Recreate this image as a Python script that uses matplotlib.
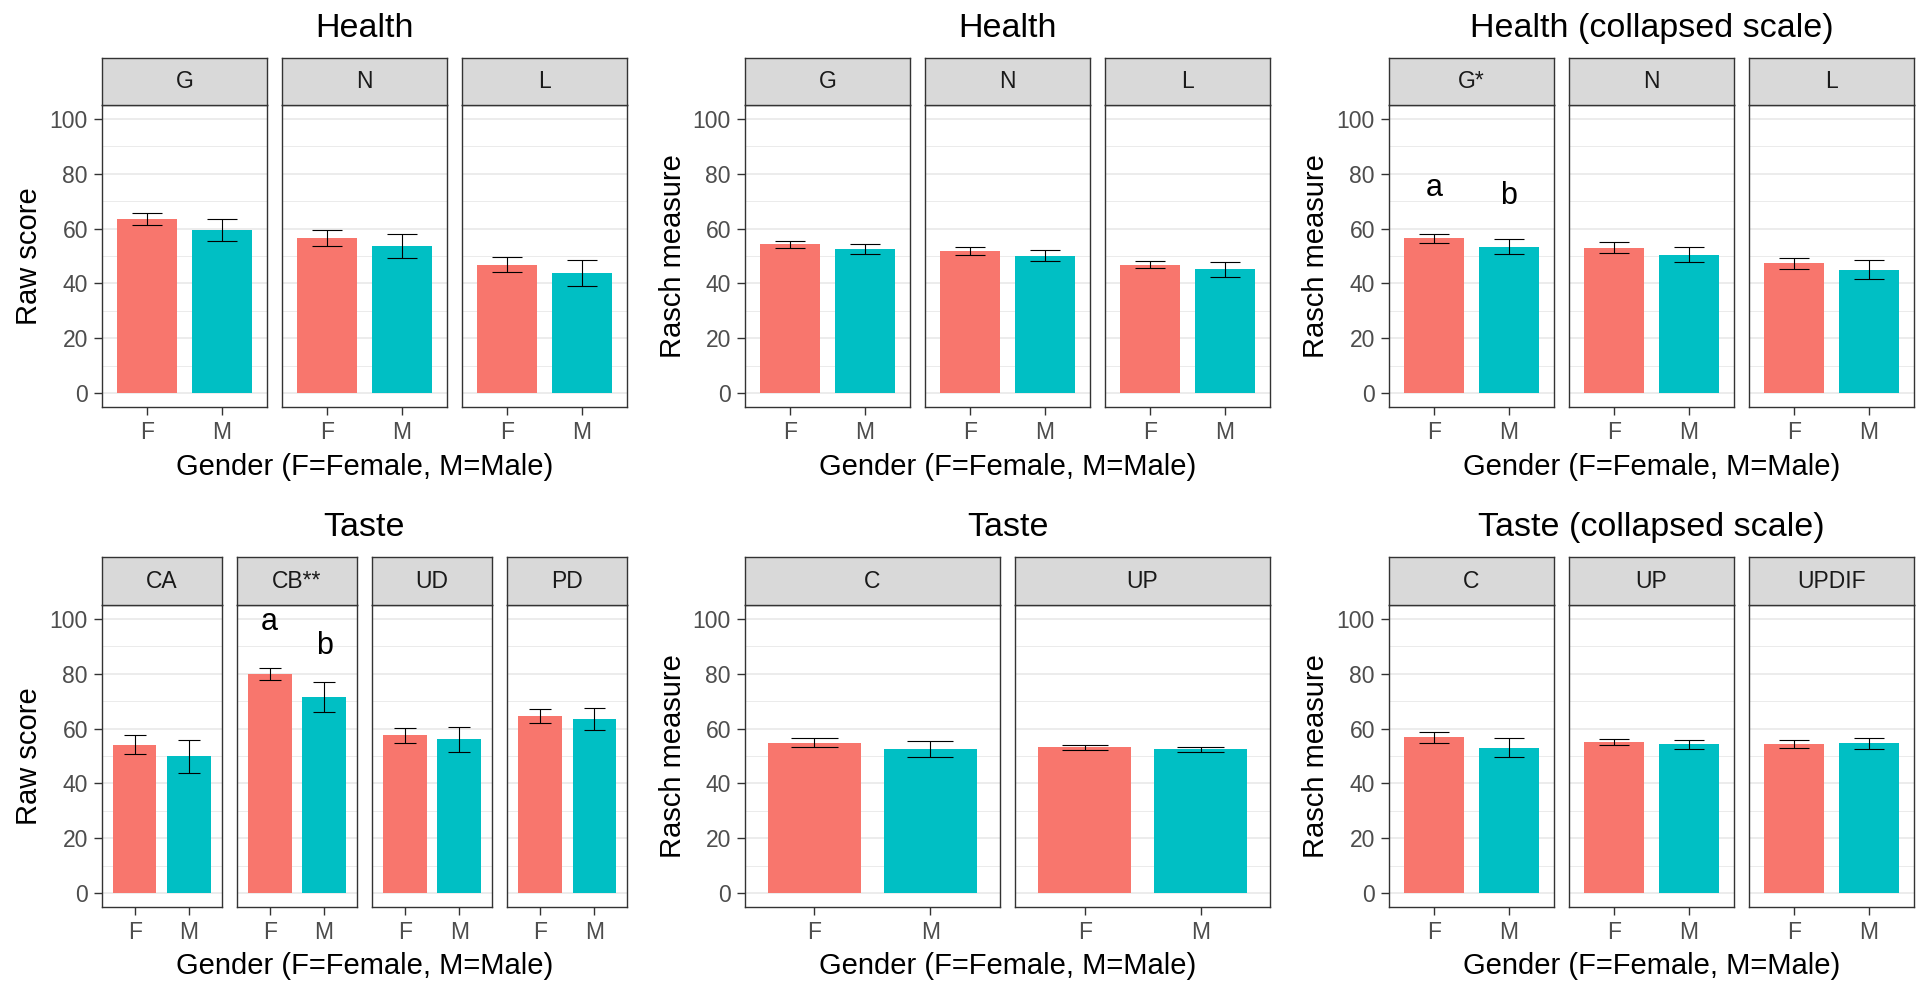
import matplotlib
matplotlib.use("Agg")
import matplotlib.pyplot as plt

plt.rcParams["font.family"] = ["Liberation Sans", "DejaVu Sans"]

W, H = 1916, 982
fig = plt.figure(figsize=(W / 100, H / 100), dpi=100)

genders = ["F", "M"]

# ---- Health, raw scores ----
health_raw_facets = ["G", "N", "L"]
health_raw_mean = [[63.4, 59.3], [56.7, 53.6], [46.8, 43.8]]
health_raw_se = [[2.2, 4.0], [2.9, 4.3], [2.8, 4.6]]

# ---- Health, Rasch measures ----
health_rasch_facets = ["G", "N", "L"]
health_rasch_mean = [[54.2, 52.4], [51.8, 50.1], [46.9, 45.1]]
health_rasch_se = [[1.25, 1.8], [1.45, 2.0], [1.45, 2.75]]

# ---- Health, Rasch measures on collapsed scale ----
health_coll_facets = ["G*", "N", "L"]
health_coll_mean = [[56.4, 53.4], [53.0, 50.5], [47.4, 45.0]]
health_coll_se = [[1.5, 2.7], [2.0, 2.85], [2.05, 3.45]]
health_coll_letters = {"G*": (["a", "b"], [71.8, 69.1])}

# ---- Taste, raw scores ----
taste_raw_facets = ["CA", "CB**", "UD", "PD"]
taste_raw_mean = [[54.1, 49.9], [80.0, 71.5], [57.5, 56.1], [64.6, 63.4]]
taste_raw_se = [[3.4, 6.0], [2.2, 5.4], [2.85, 4.55], [2.55, 4.05]]
taste_raw_letters = {"CB**": (["a", "b"], [95.8, 87.0])}

# ---- Taste, Rasch measures ----
taste_rasch_facets = ["C", "UP"]
taste_rasch_mean = [[54.9, 52.5], [53.2, 52.5]]
taste_rasch_se = [[1.6, 2.9], [0.85, 0.95]]

# ---- Taste, Rasch measures on collapsed scale ----
taste_coll_facets = ["C", "UP", "UPDIF"]
taste_coll_mean = [[56.8, 53.0], [55.1, 54.3], [54.4, 54.6]]
taste_coll_se = [[2.05, 3.45], [1.25, 1.65], [1.4, 1.9]]

y_ticks = [0, 20, 40, 60, 80, 100]
y_minor = [10, 30, 50, 70, 90]
xlab = "Gender (F=Female, M=Male)"

FILL = ["#F8766D", "#00BFC4"]
BORDER = "#333333"
GRID = "#EBEBEB"
STRIP = "#D9D9D9"
TICKTXT = "#4D4D4D"


def draw_chart(title, ylabel, facets, means, ses, letters, left, row):
    right = left + 525
    gap = 15.5
    n = len(facets)
    fw = (right - left - gap * (n - 1)) / n
    top, strip_bot, bot = row["top"], row["strip"], row["bottom"]
    xpos = [1, 2]
    for i, name in enumerate(facets):
        x0 = left + i * (fw + gap)
        ax = fig.add_axes([x0 / W, 1 - bot / H, fw / W, (bot - strip_bot) / H])
        ax.set_xlim(0.4, 2.6)
        ax.set_ylim(-5, 105)
        ax.set_axisbelow(True)
        ax.set_yticks(y_ticks)
        ax.set_yticks(y_minor, minor=True)
        ax.yaxis.grid(True, which="major", color=GRID, lw=1.3)
        ax.yaxis.grid(True, which="minor", color=GRID, lw=0.7)
        ax.bar(xpos, means[i], width=0.8, color=FILL, zorder=2)
        lo = [m - s for m, s in zip(means[i], ses[i])]
        hi = [m + s for m, s in zip(means[i], ses[i])]
        ax.vlines(xpos, lo, hi, color="black", lw=0.8, zorder=3)
        caps_l = [x - 0.2 for x in xpos]
        caps_r = [x + 0.2 for x in xpos]
        ax.hlines(lo, caps_l, caps_r, color="black", lw=0.8, zorder=3)
        ax.hlines(hi, caps_l, caps_r, color="black", lw=0.8, zorder=3)
        if name in letters:
            labs, ys = letters[name]
            for x, lab, yv in zip(xpos, labs, ys):
                ax.text(x, yv, lab, ha="center", va="baseline", fontsize=22, color="black")
        ax.set_xticks(xpos)
        ax.set_xticklabels(genders)
        ax.tick_params(axis="x", length=5.8, width=1.0, color=BORDER, pad=4.0,
                       labelsize=16.5, labelcolor=TICKTXT)
        ax.tick_params(axis="y", which="minor", length=0)
        if i == 0:
            ax.tick_params(axis="y", which="major", length=5.8, width=1.0, color=BORDER,
                           pad=4.3, labelsize=16.5, labelcolor=TICKTXT)
        else:
            ax.tick_params(axis="y", which="major", length=0, labelleft=False)
        for sp in ax.spines.values():
            sp.set_color(BORDER)
            sp.set_linewidth(1.0)
        # facet strip
        sa = fig.add_axes([x0 / W, 1 - strip_bot / H, fw / W, (strip_bot - top) / H])
        sa.set_facecolor(STRIP)
        sa.set_xticks([])
        sa.set_yticks([])
        for sp in sa.spines.values():
            sp.set_color(BORDER)
            sp.set_linewidth(1.0)
        sa.text(0.5, 0.5, name, transform=sa.transAxes, ha="center", va="center",
                fontsize=16.5, color="#1A1A1A")
    cx = (left + right) / 2
    fig.text(cx / W, 1 - row["title"] / H, title, ha="center", va="baseline",
             fontsize=24.5, color="black")
    fig.text(cx / W, 1 - row["xlab"] / H, xlab, ha="center", va="baseline",
             fontsize=21, color="black")
    fig.text(row["ylab_x"][left] / W, 1 - ((strip_bot + bot) / 2) / H, ylabel,
             rotation=90, rotation_mode="anchor", ha="center", va="baseline",
             fontsize=21, color="black")


ylab_x = {102: 36.7, 745: 680.8, 1389: 1324.0}
top_row = dict(top=58, strip=105, bottom=407, title=36.7, xlab=475, ylab_x=ylab_x)
bot_row = dict(top=557, strip=605, bottom=907, title=536, xlab=974, ylab_x=ylab_x)

draw_chart("Health", "Raw score", health_raw_facets, health_raw_mean, health_raw_se, {}, 102, top_row)
draw_chart("Health", "Rasch measure", health_rasch_facets, health_rasch_mean, health_rasch_se, {}, 745, top_row)
draw_chart("Health (collapsed scale)", "Rasch measure", health_coll_facets, health_coll_mean,
           health_coll_se, health_coll_letters, 1389, top_row)
draw_chart("Taste", "Raw score", taste_raw_facets, taste_raw_mean, taste_raw_se, taste_raw_letters, 102, bot_row)
draw_chart("Taste", "Rasch measure", taste_rasch_facets, taste_rasch_mean, taste_rasch_se, {}, 745, bot_row)
draw_chart("Taste (collapsed scale)", "Rasch measure", taste_coll_facets, taste_coll_mean,
           taste_coll_se, {}, 1389, bot_row)

fig.savefig("out.png", dpi=100, facecolor="white")
